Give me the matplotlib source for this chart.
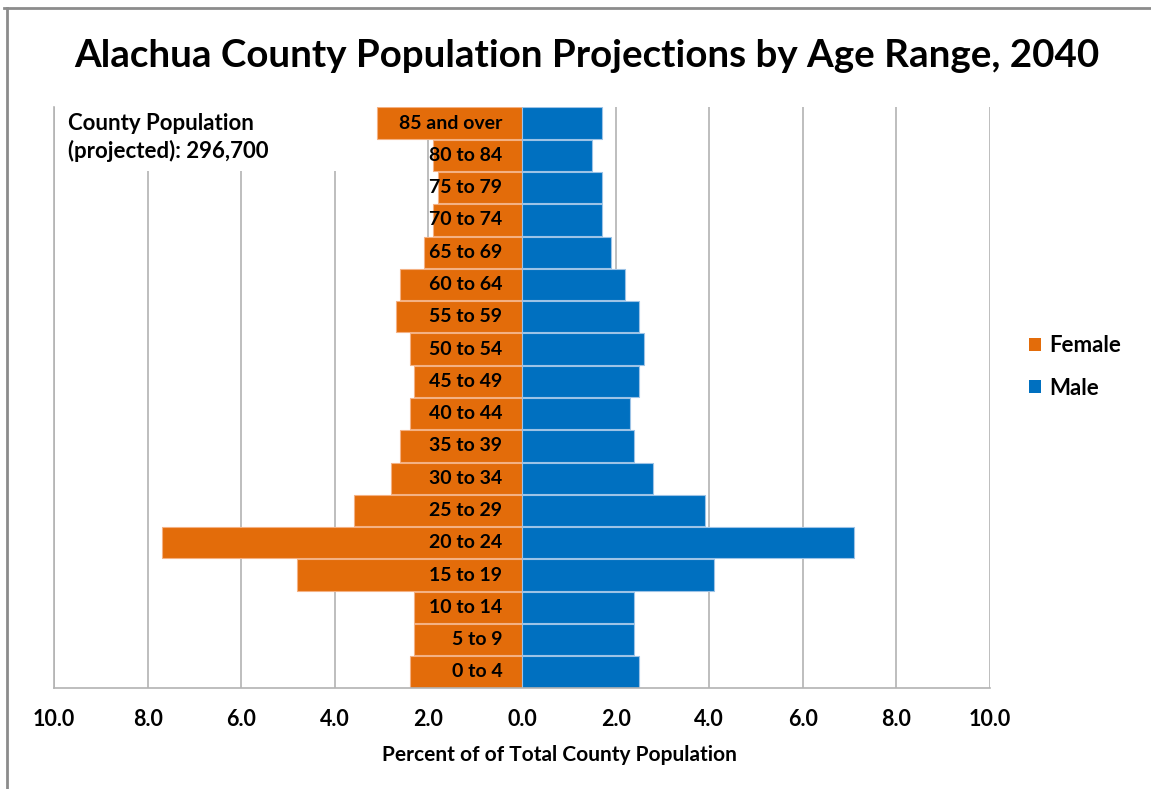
import matplotlib
matplotlib.use("Agg")
import matplotlib.pyplot as plt
from matplotlib.patches import Patch, Rectangle
from matplotlib.lines import Line2D
import numpy as np

plt.rcParams['font.family'] = ['Lato', 'DejaVu Sans']
plt.rcParams['font.weight'] = 'bold'

# age groups, youngest at the bottom
age_groups = ["0 to 4", "5 to 9", "10 to 14", "15 to 19", "20 to 24", "25 to 29",
              "30 to 34", "35 to 39", "40 to 44", "45 to 49", "50 to 54", "55 to 59",
              "60 to 64", "65 to 69", "70 to 74", "75 to 79", "80 to 84", "85 and over"]
female_pct = [2.4, 2.3, 2.3, 4.8, 7.7, 3.6, 2.8, 2.6, 2.4, 2.3, 2.4, 2.7,
              2.6, 2.1, 1.9, 1.8, 1.9, 3.1]
male_pct = [2.5, 2.4, 2.4, 4.1, 7.1, 3.9, 2.8, 2.4, 2.3, 2.5, 2.6, 2.5,
            2.2, 1.9, 1.7, 1.7, 1.5, 1.7]
x_ticks = [-10, -8, -6, -4, -2, 0, 2, 4, 6, 8, 10]

orange = '#E36C0A'
blue = '#0070C0'

fig = plt.figure(figsize=(11.51, 7.89), dpi=100)
ax = fig.add_axes([54 / 1151, 1 - 688 / 789, 936 / 1151, 581 / 789])

y = np.arange(len(age_groups))
ax.barh(y, -np.array(female_pct), height=0.97, color=orange, edgecolor='#F4B183',
        linewidth=0.8, zorder=2)
ax.barh(y, male_pct, height=0.97, color=blue, edgecolor='#9DC3E6',
        linewidth=0.8, zorder=2)

# age labels sit inside the female bars, next to the centre line
for yi, lab in zip(y, age_groups):
    ax.text(-0.42, yi, lab, ha='right', va='center', fontsize=14,
            fontweight='bold', color='black', zorder=4)

ax.set_xlim(-10, 10)
ax.set_ylim(-0.5, len(age_groups) - 0.5)
ax.set_xticks(x_ticks)
ax.set_xticklabels([f"{abs(v):.1f}" for v in x_ticks], fontsize=15.5, fontweight='bold')
ax.set_yticks([])
ax.tick_params(axis='x', length=0, pad=15)
ax.grid(axis='x', color='#B3B3B3', linewidth=1.2)
ax.set_axisbelow(True)
for side in ['top', 'right']:
    ax.spines[side].set_visible(False)
for side in ['left', 'bottom']:
    ax.spines[side].set_color('#B3B3B3')
    ax.spines[side].set_linewidth(1.2)

# white text box in the top left corner hides the grid behind it
ax.add_patch(Rectangle((-9.97, 15.52), 7.1, 2.0, facecolor='white',
                       edgecolor='none', zorder=1))
ax.text(-9.7, 17.32, "County Population\n(projected): 296,700", ha='left', va='top',
        fontsize=16, fontweight='bold', linespacing=1.33, zorder=3)

ax.set_xlabel("Percent of of Total County Population", fontsize=15, fontweight='bold')
ax.xaxis.set_label_coords(0.540, -0.098)

fig.suptitle("Alachua County Population Projections by Age Range, 2040",
             x=587 / 1151, y=1 - 56 / 789, va='center', fontsize=27.7, fontweight='bold')

handles = [Patch(facecolor=orange, label='Female'), Patch(facecolor=blue, label='Male')]
fig.legend(handles=handles, loc='center left', bbox_to_anchor=(1009 / 1151, 1 - 367 / 789),
           frameon=False, fontsize=16, handlelength=0.55, handleheight=0.55,
           handletextpad=0.35, labelspacing=0.95)

# thin outer frame along the top and left edges
fig.add_artist(Line2D([4 / 1151, 1], [1 - 8 / 789, 1 - 8 / 789], color='#8C8C8C',
                      linewidth=2, transform=fig.transFigure))
fig.add_artist(Line2D([7 / 1151, 7 / 1151], [0, 1 - 8 / 789], color='#8C8C8C',
                      linewidth=2, transform=fig.transFigure))

fig.savefig("out.png", dpi=100, facecolor='white')
